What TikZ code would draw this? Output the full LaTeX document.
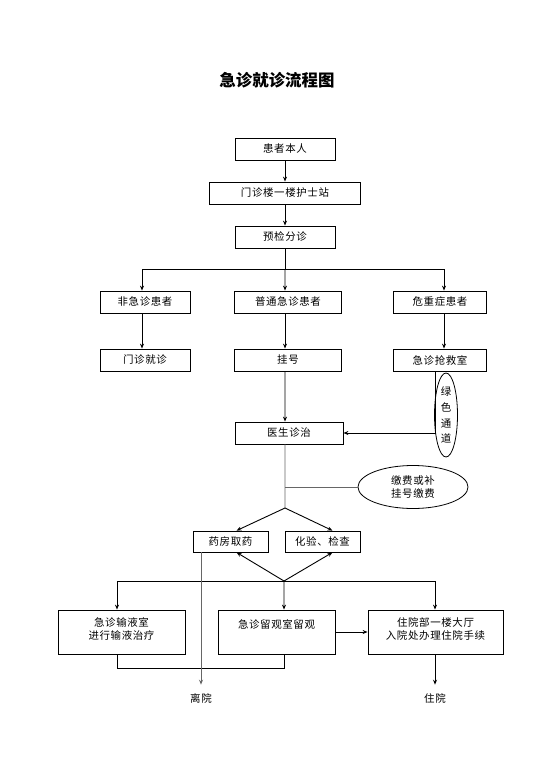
\documentclass[tikz,border=0pt]{standalone}
\usepackage{fontspec}
\newfontfamily\cjk{Noto Sans CJK SC}[LetterSpace=6]
\newfontfamily\cjktitle{Noto Sans CJK SC}
\usetikzlibrary{arrows.meta,positioning,shapes.geometric}

\begin{document}
\begin{tikzpicture}[
    x=1bp, y=-1bp,
    >={Stealth[length=5bp,width=4bp]},
    font=\cjk\fontsize{10.5}{13}\selectfont,
    line width=0.9bp,
    box/.style={
        draw,
        line width=0.8bp,
        inner sep=1pt,
        minimum height=22bp,
        align=center
    },
    bigbox/.style={
        box,
        minimum height=44bp
    },
    bubble/.style={
        ellipse, draw,
        line width=0.8bp,
        inner sep=0pt,
        align=center
    },
    thin/.style={
        draw=black!60
    },
    exitlabel/.style={
        inner sep=2pt
    }
]

\useasboundingbox (0,0) rectangle (554,784);

\node[font=\cjktitle\fontsize{16.5}{19}\selectfont\bfseries] (title) at (277,80) {急诊就诊流程图};


\node[box,minimum width=100bp] (patient) at (285,149) {患者本人};
\node[box,minimum width=151bp] (nurse)   at (285,193) {门诊楼一楼护士站};
\node[box,minimum width=100bp] (triage)  at (285,237) {预检分诊};

\draw[->] (patient) -- (nurse);
\draw[->] (nurse) -- (triage);


\coordinate (fork) at (285,269);

\node[box,minimum width=90bp]  (nonurg) at (145,302) {非急诊患者};
\node[box,minimum width=107bp] (common) at (288,302) {普通急诊患者};
\node[box,minimum width=93bp]  (severe) at (440,302) {危重症患者};

\draw (triage) -- (fork);
\draw[->] (fork) -| ([xshift=-3bp]nonurg.north);
\draw[->] (fork) -- ([xshift=-3bp]common.north);
\draw[->] (fork) -| ([xshift=4bp]severe.north);


\node[box,minimum width=90bp]  (outpt)  at (145,360) {门诊就诊};
\node[box,minimum width=107bp] (reg)    at (288,360) {挂号};
\node[box,minimum width=93bp]  (rescue) at (440,360) {急诊抢救室};

\draw[->] ([xshift=-3bp]nonurg.south) -- ([xshift=-3bp]outpt.north);
\draw[->] ([xshift=-3bp]common.south) -- ([xshift=-3bp]reg.north);
\draw[->] ([xshift=4bp]severe.south) -- ([xshift=4bp]rescue.north);


\node[box,minimum width=108bp] (doctor) at (289,433) {医生诊治};
\node[bubble,minimum width=23bp,minimum height=84bp,font=\cjktitle\fontsize{10.5}{16}\selectfont] (green) at (446,415) {绿\\色\\通\\道};

\draw[->] ([xshift=-3bp]reg.south) -- ([xshift=-4bp]doctor.north);
\draw[->] ([xshift=-5bp]rescue.south) |- (doctor.east);


\node[bubble,minimum width=110bp,minimum height=43bp] (pay) at (413,487) {缴费或补\\挂号缴费};
\coordinate (split) at (285,508);

\draw[thin] ([xshift=-4bp]doctor.south) -- (split);
\draw[thin] (split |- pay.west) -- (pay.west);


\node[box,minimum width=75bp,minimum height=21bp] (pharm) at (230.5,541.5) {药房取药};
\node[box,minimum width=75bp,minimum height=21bp] (lab)   at (322.5,541.5) {化验、检查};
\coordinate (join) at (284,581);

\draw[->] (split) -- ([xshift=6bp]pharm.north);
\draw[->] (split) -- ([xshift=10bp]lab.north);
\draw[->] (join) -- ([xshift=6bp]pharm.south);
\draw[->] (join) -- ([xshift=10bp]lab.south);


\node[bigbox,minimum width=127bp] (infuse)  at (121.5,632) {急诊输液室\\进行输液治疗\\[-6bp]~};
\node[bigbox,minimum width=117bp] (observe) at (276.5,632) {急诊留观室留观\\[2bp]~};
\node[bigbox,minimum width=135bp] (admit)   at (435.5,632) {住院部一楼大厅\\入院处办理住院手续\\[-6bp]~};

\draw[->] (join) -| ([xshift=-4.5bp]infuse.north);
\draw[->] (join) -- ([xshift=7.5bp]observe.north);
\draw[->] (join) -| ([xshift=-0.5bp]admit.north);
\draw[->] (observe) -- (admit);
\draw ([xshift=-4.5bp]infuse.south) -- ++(0,14) -| ([xshift=7.5bp]observe.south);


\node[exitlabel] (leave) at (201,698) {离院};
\node[exitlabel] (stay)  at (435,698) {住院};

\draw[->,thin,shorten >=6bp] (pharm.south -| leave) -- (leave.north);
\draw[->,shorten >=6bp] ([xshift=-0.5bp]admit.south) -- (stay.north);

\end{tikzpicture}
\end{document}
